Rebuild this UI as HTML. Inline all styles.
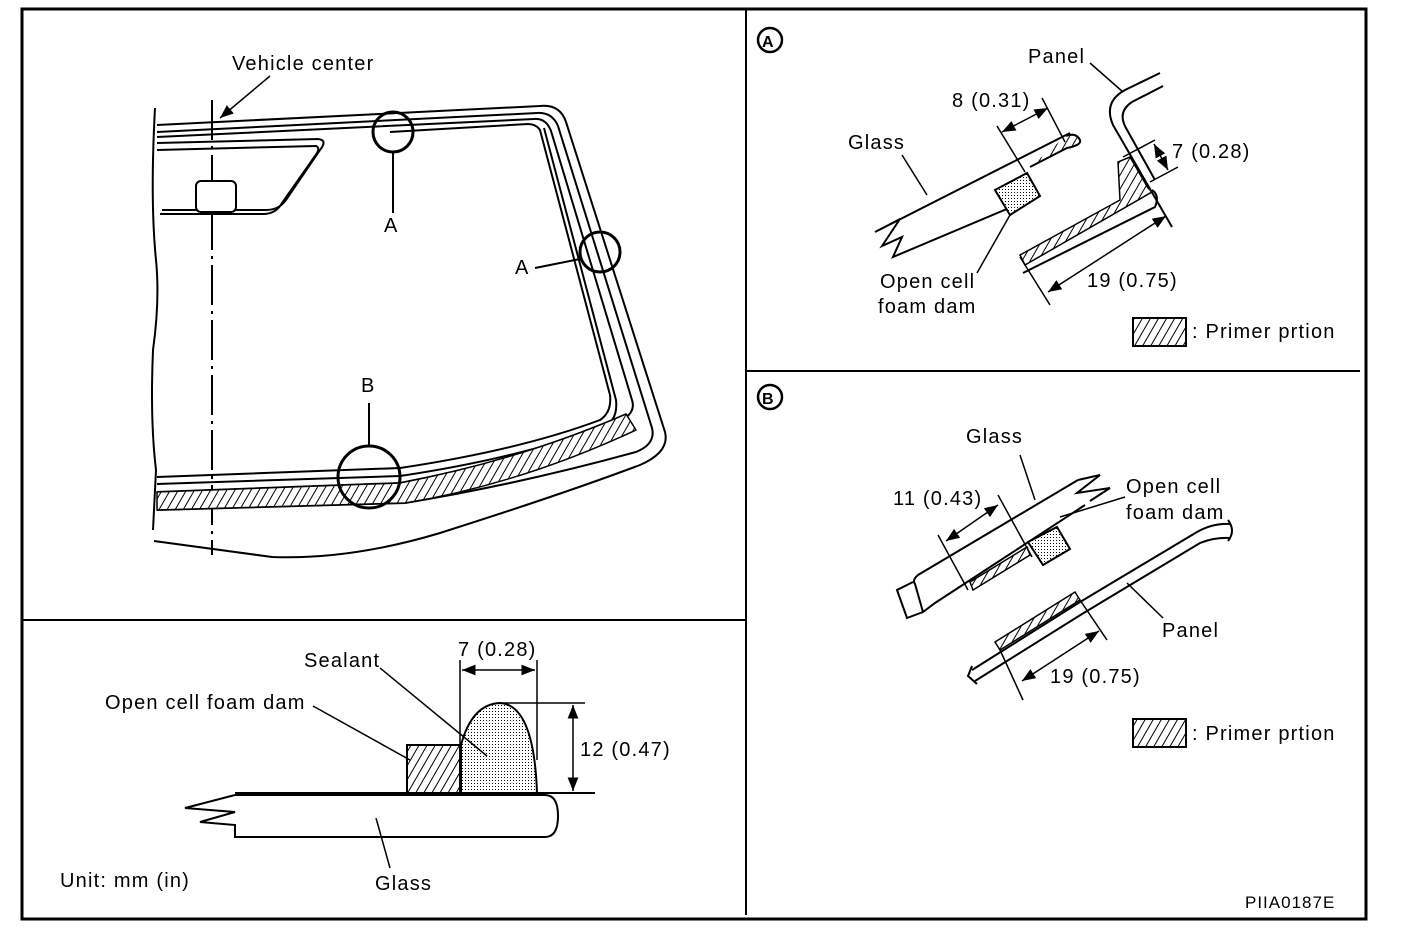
<!DOCTYPE html>
<html><head><meta charset="utf-8"><style>
html,body{margin:0;padding:0;background:#fff}
svg{display:block}
text{font-family:"Liberation Sans",Arial,sans-serif;font-size:20px;letter-spacing:1.2px;fill:#000}
</style></head><body>
<svg width="1408" height="934" viewBox="0 0 1408 934" xmlns="http://www.w3.org/2000/svg">
<defs>
<pattern id="h" width="7" height="7" patternUnits="userSpaceOnUse" patternTransform="rotate(30)">
<rect width="7" height="7" fill="#fff"/><line x1="0" y1="0" x2="0" y2="7" stroke="#000" stroke-width="2"/></pattern>
<pattern id="d" width="3" height="3" patternUnits="userSpaceOnUse">
<rect width="3" height="3" fill="#fff"/><rect width="1" height="1" fill="#000"/></pattern>
<marker id="a" viewBox="0 0 10 10" refX="10" refY="5" markerWidth="9" markerHeight="9" orient="auto-start-reverse"><path d="M0,1 L10,5 L0,9 Z" fill="#000"/></marker>
</defs>
<g fill="none" stroke="#000" stroke-width="2">
<rect x="22" y="9" width="1344" height="910" stroke-width="3"/>
<line x1="746" y1="9" x2="746" y2="915"/>
<line x1="22" y1="620" x2="746" y2="620"/>
<line x1="746" y1="371" x2="1360" y2="371"/>

<path d="M155,108 Q150,200 156,260 Q160,300 153,350 Q150,420 156,470 L153,530"/>
<line x1="212" y1="100" x2="212" y2="555" stroke-dasharray="40,6,3,6"/>
<path d="M157,125 L540,106 Q560,104 566,122 L665,432 Q670,452 640,465 Q560,495 440,533 Q350,560 272,557 L154,541"/>
<path d="M157,132 L537,113 Q552,112 558,126 L652,428 Q656,444 636,452 Q520,484 405,503 L157,510"/>
<path d="M157,137 L534,119 Q546,118 551,131 L632,400 Q636,412 622,420 Q520,460 400,483 L157,492"/>
<path d="M157,477 L400,468 Q520,450 600,420 Q612,412 610,395 L540,130 Q536,124 528,124 L390,132"/>
<path d="M157,484 L400,476 Q520,458 606,426 Q618,418 616,400 L544,128"/>
<path d="M157,510 L405,503 Q520,484 636,430 L626,414 Q520,460 400,483 L157,492 Z" fill="url(#h)" stroke-width="1.5"/>
<path d="M157,143 L318,139 Q328,140 320,150 L286,200 Q279,210 266,210 L162,210"/>
<path d="M157,150 L316,146 Q321,148 315,156 L282,203 Q276,214 263,214 L160,214"/>
<rect x="196" y="181" width="40" height="31" rx="5" fill="#fff"/>
<circle cx="393" cy="132" r="20" stroke-width="3"/>
<circle cx="600" cy="252" r="20" stroke-width="3"/>
<circle cx="369" cy="477" r="31" stroke-width="3"/>
<line x1="393" y1="152" x2="393" y2="213"/>
<line x1="535" y1="268" x2="580" y2="259"/>
<line x1="369" y1="403" x2="369" y2="446"/>
<line x1="270" y1="76" x2="220" y2="118" marker-end="url(#a)" stroke-width="1.5"/>

<path d="M240,795 L545,795 Q558,795 558,816 Q558,837 545,837 L235,837 L235,825 L200,822 L235,812 L185,808 L235,795 Z"/>
<line x1="235" y1="793" x2="595" y2="793"/>
<rect x="407" y="745" width="53" height="48" fill="url(#h)"/>
<path d="M461,793 L461,745 Q472,704 500,703 Q534,705 537,793 Z" fill="url(#d)"/>
<line x1="460" y1="660" x2="460" y2="745" stroke-width="1.5"/>
<line x1="537" y1="660" x2="537" y2="760" stroke-width="1.5"/>
<line x1="462" y1="670" x2="535" y2="670" marker-start="url(#a)" marker-end="url(#a)" stroke-width="1.5"/>
<line x1="500" y1="703" x2="585" y2="703" stroke-width="1.5"/>
<line x1="573" y1="705" x2="573" y2="791" marker-start="url(#a)" marker-end="url(#a)" stroke-width="1.5"/>
<line x1="380" y1="668" x2="487" y2="756" stroke-width="1.5"/>
<line x1="313" y1="706" x2="410" y2="760" stroke-width="1.5"/>
<line x1="390" y1="868" x2="376" y2="818" stroke-width="1.5"/>

<circle cx="770" cy="40" r="12" stroke-width="2.5"/>
<path d="M1070,133 L875,232 L900,219 L882,246 L902,237 L893,257 L1040,195"/>
<path d="M1030,167 L1067,148 Q1082,145 1080,140 Q1076,132 1066,136" fill="url(#h)"/>
<path d="M995,190 L1027,173 L1040,196 L1010,215 Z" fill="url(#d)"/>
<path d="M1160,73 L1125,90 Q1103,102 1113,125 L1172,227"/>
<path d="M1163,86 L1132,102 Q1117,112 1126,128 L1155,180"/>
<path d="M1020,255 L1120,200 L1118,162 L1130,157 L1148,188 L1152,192 L1025,265 Z" fill="url(#h)" stroke-width="1.5"/>
<path d="M1023,273 L1155,207 Q1160,195 1152,190"/>
<line x1="997" y1="126" x2="1025" y2="172" stroke-width="1.5"/>
<line x1="1042" y1="98" x2="1065" y2="142" stroke-width="1.5"/>
<line x1="1002" y1="132" x2="1048" y2="108" marker-start="url(#a)" marker-end="url(#a)" stroke-width="1.5"/>
<line x1="1123" y1="157" x2="1155" y2="140" stroke-width="1.5"/>
<line x1="1150" y1="182" x2="1178" y2="167" stroke-width="1.5"/>
<line x1="1154" y1="144" x2="1168" y2="170" marker-start="url(#a)" marker-end="url(#a)" stroke-width="1.5"/>
<line x1="1020" y1="257" x2="1050" y2="305" stroke-width="1.5"/>
<line x1="1048" y1="292" x2="1166" y2="216" marker-start="url(#a)" marker-end="url(#a)" stroke-width="1.5"/>
<line x1="902" y1="155" x2="927" y2="195" stroke-width="1.5"/>
<line x1="1010" y1="215" x2="977" y2="273" stroke-width="1.5"/>
<line x1="1090" y1="63" x2="1123" y2="92" stroke-width="1.5"/>
<rect x="1133" y="318" width="53" height="28" fill="url(#h)"/>

<circle cx="770" cy="397" r="12" stroke-width="2.5"/>
<path d="M1078,480 L918,575 Q912,580 915,584 L923,612 L935,603 L1085,505"/>
<path d="M1078,480 L1100,475 L1077,493 L1110,488 L1090,501"/>
<path d="M913,582 L897,590 L907,618 L923,612"/>
<path d="M970,582 L1027,547 L1030,555 L973,590 Z" fill="url(#h)" stroke-width="1.5"/>
<path d="M1028,542 L1057,527 L1070,549 L1043,565 Z" fill="url(#d)"/>
<line x1="1060" y1="517" x2="1125" y2="497" stroke-width="1.5"/>
<path d="M972,670 L1080,602 L1197,532 Q1213,523 1230,524"/>
<path d="M975,681 L1082,614 L1200,543 Q1215,537 1230,538"/>
<path d="M1228,520 Q1236,531 1228,541"/>
<path d="M972,666 L968,676 L977,684"/>
<path d="M995,642 L1075,592 L1080,600 L1000,650 Z" fill="url(#h)" stroke-width="1.5"/>
<line x1="938" y1="535" x2="968" y2="590" stroke-width="1.5"/>
<line x1="998" y1="495" x2="1032" y2="557" stroke-width="1.5"/>
<line x1="946" y1="541" x2="998" y2="505" marker-start="url(#a)" marker-end="url(#a)" stroke-width="1.5"/>
<line x1="1000" y1="650" x2="1023" y2="700" stroke-width="1.5"/>
<line x1="1080" y1="600" x2="1107" y2="640" stroke-width="1.5"/>
<line x1="1022" y1="681" x2="1099" y2="631" marker-start="url(#a)" marker-end="url(#a)" stroke-width="1.5"/>
<line x1="1127" y1="583" x2="1163" y2="618" stroke-width="1.5"/>
<line x1="1020" y1="455" x2="1035" y2="500" stroke-width="1.5"/>
<rect x="1133" y="719" width="53" height="28" fill="url(#h)"/>
</g>

<text x="232" y="70">Vehicle center</text>
<text x="384" y="232">A</text>
<text x="515" y="274">A</text>
<text x="361" y="392">B</text>
<text x="304" y="667">Sealant</text>
<text x="458" y="656">7 (0.28)</text>
<text x="105" y="709">Open cell foam dam</text>
<text x="580" y="756">12 (0.47)</text>
<text x="60" y="887">Unit: mm (in)</text>
<text x="375" y="890">Glass</text>
<text x="762" y="47" style="font-size:16px;font-weight:bold;letter-spacing:0">A</text>
<text x="762" y="404" style="font-size:16px;font-weight:bold;letter-spacing:0">B</text>
<text x="1028" y="63">Panel</text>
<text x="952" y="107">8 (0.31)</text>
<text x="848" y="149">Glass</text>
<text x="1172" y="158">7 (0.28)</text>
<text x="1087" y="287">19 (0.75)</text>
<text x="880" y="288">Open cell</text>
<text x="878" y="313">foam dam</text>
<text x="1192" y="338">: Primer prtion</text>
<text x="966" y="443">Glass</text>
<text x="893" y="505">11 (0.43)</text>
<text x="1126" y="493">Open cell</text>
<text x="1126" y="519">foam dam</text>
<text x="1162" y="637">Panel</text>
<text x="1050" y="683">19 (0.75)</text>
<text x="1192" y="740">: Primer prtion</text>
<text x="1245" y="908" style="font-size:17px;letter-spacing:1px">PIIA0187E</text>
</svg>
</body></html>
